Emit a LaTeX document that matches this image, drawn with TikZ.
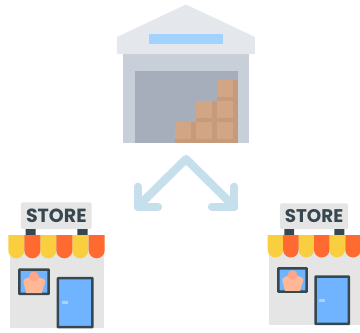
\documentclass[tikz,border=0pt]{standalone}
\usepackage{fontspec}
\newfontfamily\signfont{Poppins}
\definecolor{roofc}{HTML}{E4E7EB}
\definecolor{skyc}{HTML}{A3D2FF}
\definecolor{bodyc}{HTML}{C8CFD8}
\definecolor{doorc}{HTML}{A6AEBB}
\definecolor{boxc}{HTML}{D2A685}
\definecolor{boxd}{HTML}{C59B7C}
\definecolor{arrowc}{HTML}{C5DFEC}
\definecolor{wallc}{HTML}{E5E5E5}
\definecolor{darkc}{HTML}{37474F}
\definecolor{yelc}{HTML}{F9CE3F}
\definecolor{orac}{HTML}{FF6A30}
\definecolor{bluec}{HTML}{70B4FF}
\definecolor{handc}{HTML}{A9D2FF}
\definecolor{torsoc}{HTML}{FFB895}
\definecolor{headc}{HTML}{FFA68A}
\tikzset{
  fork/.style={draw=arrowc,line width=8.2pt,line cap=round,line join=round},
  signbox/.style={fill=wallc,rounded corners=2pt},
  signtext/.style={font=\signfont\bfseries\fontsize{19}{20}\selectfont,text=darkc,inner sep=0pt,transform shape},
  framed/.style={draw=darkc,line width=2.5pt,rounded corners=.5pt}
}
\newcommand{\crate}[2]{%
  \fill[boxd] (#1,#2) rectangle ++(21.2,21.2);
  \fill[boxc] (#1,#2) rectangle ++(16.6,16.6);
}
\newcommand{\scallop}[2]{%
  \fill[#2] (#1,0) -- (#1,15.3) .. controls (#1+0,19.7) and (#1+3.6,23.3) .. (#1+8,23.3)
    .. controls (#1+12.4,23.3) and (#1+16,19.7) .. (#1+16,15.3) -- (#1+16,0) -- cycle;
}
\newcommand{\storeicon}[4]{%
  \begin{scope}[shift={(#1,#2)},scale=#3]
    \fill[signbox] (12.7,-32.7) rectangle (83.4,-6);
    \node[signtext] (#4) at (48,-19.4) {STORE};
    \fill[darkc] (17.4,-6) rectangle (27.4,0) (69,-6) rectangle (79.4,0);
    \fill[wallc] (1.4,0) rectangle (95.4,93);
    \scallop{0}{yelc}
    \scallop{32}{yelc}
    \scallop{64}{yelc}
    \scallop{16}{orac}
    \scallop{48}{orac}
    \scallop{80.4}{orac}
    \filldraw[fill=bluec,framed] (11,34.6) rectangle (40.4,58.8);
    \fill[torsoc] (18,58) -- (15,46.5) .. controls (15.5,43) and (21,42) .. (25.7,42)
       .. controls (30,42) and (36.5,43) .. (37,46.5) -- (33.5,58) -- cycle;
    \fill[headc] (25.7,41.5) circle[radius=5];
    \filldraw[fill=bluec,framed] (49.6,43.2) rectangle (84.2,92.2);
    \fill[handc] (53.4,66) rectangle (59.7,69.3);
  \end{scope}
}
\begin{document}
\begin{tikzpicture}[x=1pt,y=-1pt]
  \useasboundingbox (0,0) rectangle (360,333);
  \clip (0,0) rectangle (360,333);
  % warehouse
  \fill[bodyc] (123,54) rectangle (249,143);
  \fill[roofc] (186,4.5) -- (255,37) -- (255,54) -- (117,54) -- (117,37) -- cycle;
  \fill[skyc] (149,34) rectangle (223,44);
  \fill[doorc] (135,70.7) rectangle (238,143);
  \crate{216.8}{80}
  \crate{216.8}{101}
  \crate{195.6}{101}
  \crate{216.8}{122}
  \crate{195.6}{122}
  \crate{174.6}{122}
  % stores
  \storeicon{8.3}{235}{1}{storeL}
  \storeicon{267.7}{235}{.965}{storeR}
  % fork arrows
  \coordinate (apex) at (186,159);
  \coordinate (cornerL) at (137.7,206.7);
  \coordinate (barbLa) at (137.7,186.7);
  \coordinate (barbLb) at (158,206.7);
  \coordinate (cornerR) at (234.3,206.7);
  \coordinate (barbRa) at (234.3,186.7);
  \coordinate (barbRb) at (212,206.7);
  \draw[fork] (barbLa) -- (cornerL) -- (barbLb);
  \draw[fork] (barbRa) -- (cornerR) -- (barbRb);
  \draw[fork] (cornerL) -- (apex) -- (cornerR);
\end{tikzpicture}
\end{document}
